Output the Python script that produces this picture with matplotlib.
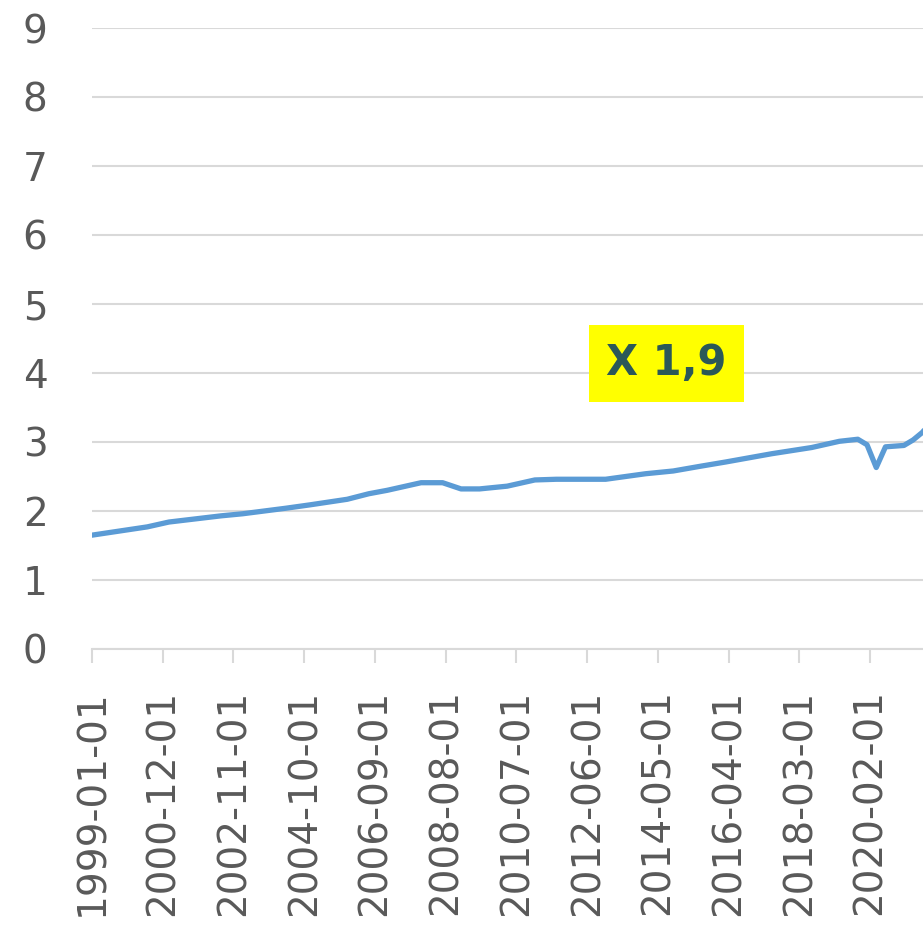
"""
Serie mensual 1999-2021 con recuadro "X 1,9"
"""

import numpy as np
import matplotlib.pyplot as plt

# datos (mes, valor)
fechas = ["1999-01", "2000-07", "2001-02", "2002-07", "2003-02", "2004-04",
          "2004-12", "2005-12", "2006-07", "2007-01", "2007-12", "2008-07",
          "2008-09", "2009-01", "2009-07", "2010-04", "2011-01", "2011-08",
          "2012-12", "2014-01", "2014-10", "2015-07", "2016-03", "2017-06",
          "2018-07", "2019-04", "2019-10", "2020-01", "2020-04", "2020-07",
          "2021-01", "2021-04", "2021-07", "2021-10"]
valores = [1.65, 1.77, 1.84, 1.93, 1.96, 2.04,
           2.09, 2.17, 2.25, 2.30, 2.41, 2.41,
           2.38, 2.32, 2.32, 2.36, 2.45, 2.46,
           2.46, 2.54, 2.58, 2.65, 2.71, 2.83,
           2.92, 3.01, 3.04, 2.96, 2.63, 2.93,
           2.95, 3.03, 3.14, 3.30]

etiquetas = ["1999-01-01", "2000-12-01", "2002-11-01", "2004-10-01",
             "2006-09-01", "2008-08-01", "2010-07-01", "2012-06-01",
             "2014-05-01", "2016-04-01", "2018-03-01", "2020-02-01"]
y_ticks = list(range(0, 10))


def mes_indice(s):
    anio, mes = s.split("-")[:2]
    return (int(anio) - 1999) * 12 + int(mes) - 1


x = np.array([mes_indice(f) for f in fechas])
x_ticks = [mes_indice(e) for e in etiquetas]

gris = "#595959"
gris_claro = "#d9d9d9"

fig = plt.figure(figsize=(9.23, 9.26), dpi=100)
ax = fig.add_axes([92 / 923, 1 - 649 / 926, 1 - 92 / 923, (649 - 28) / 926])

ax.plot(x, valores, color="#5b9bd5", linewidth=3.8, solid_joinstyle="round",
        solid_capstyle="round", zorder=3)

ax.set_xlim(0, 270.2)
ax.set_ylim(0, 9)
ax.set_yticks(y_ticks)
ax.set_xticks(x_ticks)
ax.set_xticklabels(etiquetas, rotation=90)

ax.grid(axis="y", color=gris_claro, linewidth=1.5)
ax.set_axisbelow(True)
for lado in ["top", "right", "left"]:
    ax.spines[lado].set_visible(False)
ax.spines["bottom"].set_color(gris_claro)
ax.spines["bottom"].set_linewidth(1.5)

ax.tick_params(axis="y", length=0, pad=32, labelsize=28, labelcolor=gris)
ax.tick_params(axis="x", length=10, width=1.5, color=gris_claro, pad=19,
               labelsize=28, labelcolor=gris)
for lbl in ax.get_xticklabels():
    lbl.set_verticalalignment("top")

# recuadro
ax.text(186.7, 4.14, "X 1,9", fontsize=30, fontweight="bold", color="#2b5858",
        ha="center", va="center", zorder=5,
        bbox=dict(boxstyle="square,pad=0.42", facecolor="#ffff00", edgecolor="none"))

fig.savefig("out.png", dpi=100)
